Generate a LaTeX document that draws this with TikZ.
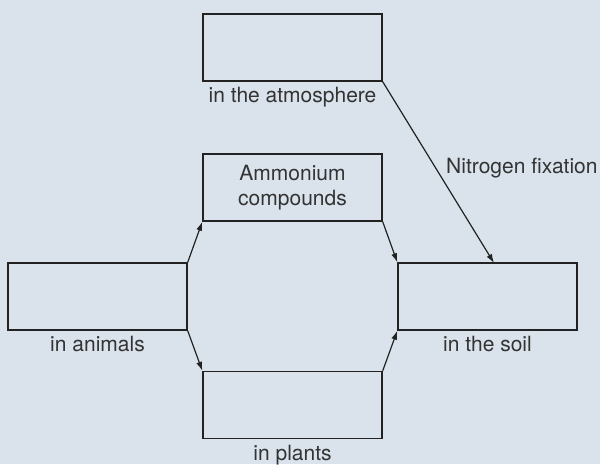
\documentclass[tikz,border=0pt]{standalone}
\usepackage{fontspec}
\setmainfont{TeX Gyre Heros}
\usetikzlibrary{arrows.meta,calc}
\definecolor{bgc}{HTML}{DAE3EC}
\definecolor{inkc}{HTML}{222222}
\definecolor{txtc}{HTML}{333333}
\begin{document}
\begin{tikzpicture}[x=1pt,y=-1pt,
  box/.style={draw=inkc,line width=1.4pt,minimum width=179pt,minimum height=67pt,inner sep=0pt,text=txtc,align=center,font=\fontsize{21}{25}\selectfont},
  lab/.style={anchor=base,text=txtc,inner sep=0pt,font=\fontsize{21}{25}\selectfont},
  arr/.style={draw=inkc,line width=1.2pt,-{Latex[length=9pt,width=6pt]}}]
\useasboundingbox[fill=bgc] (0,0) rectangle (600,464);
\node[box] (atm) at (292.5,47.5) {};
\node[box] (amm) at (292.5,187.5) {Ammonium\\compounds};
\node[box] (ani) at (97.5,296.5) {};
\node[box] (soil) at (487.5,296.5) {};
\node[box] (pla) at (292.5,405) {};
\node[lab] (latm) at ($(atm.south)+(0,21)$) {in the atmosphere};
\node[lab] (lani) at ($(ani.south)+(0,21)$) {in animals};
\node[lab] (lsoil) at ($(soil.south)+(0,21)$) {in the soil};
\node[lab] (lpla) at ($(pla.south)+(0,21)$) {in plants};
\node[lab,anchor=base west] (lfix) at (446,173) {Nitrogen fixation};
\coordinate (fixend) at (494,263);
\draw[arr] (ani.north east) -- (amm.south west);
\draw[arr] (ani.south east) -- (pla.north west);
\draw[arr] (amm.south east) -- (soil.north west);
\draw[arr] (pla.north east) -- (soil.south west);
\draw[arr] (atm.south east) -- (fixend);
\end{tikzpicture}
\end{document}
